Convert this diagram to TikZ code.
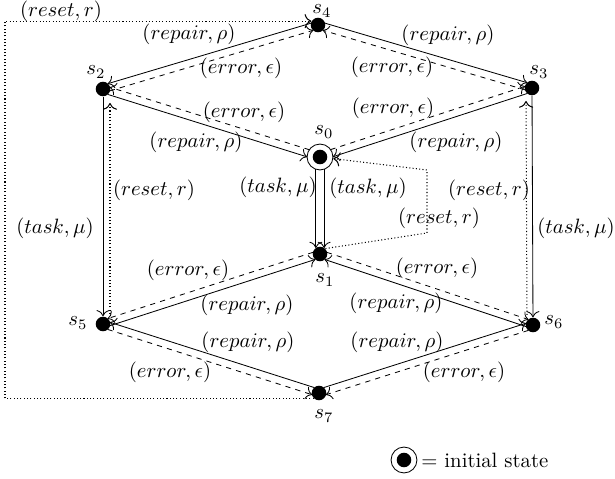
\documentclass[tikz,border=0pt]{standalone}
\usetikzlibrary{calc,arrows.meta}
\newcommand{\pedge}[4]{\draw[#1] ($(#2)!#4!90:(#3)$) -- ($(#3)!#4!-90:(#2)$);}
\tikzset{
  dot/.style={circle, fill, inner sep=0pt, minimum size=7pt},
  initstate/.style={circle, draw, inner sep=0pt, minimum size=12.5pt,
    path picture={\fill (path picture bounding box.center) circle (3.5pt);}},
  lbl/.style={inner sep=0pt},
  tip/.style={-{To[scale=1.2]}},
  rep/.style={tip, shorten <=2.9pt, shorten >=2.9pt},
  err/.style={rep, dash pattern=on 2.5pt off 2.5pt},
  rst/.style={tip, line width=0.5pt, dash pattern=on 0.5pt off 1.1pt},
  s0start/.style={shorten <=5.9pt},
  s0end/.style={shorten >=5.9pt}
}
\begin{document}
\begin{tikzpicture}[x=0.482pt,y=-0.482pt]
\useasboundingbox (0,0) rectangle (615,479);
% states
\node[dot] (s4) at (318,25) {};
\node[dot] (s2) at (103,89) {};
\node[dot] (s3) at (532,88) {};
\node[initstate] (s0) at (320,157) {};
\node[dot] (s1) at (320,254) {};
\node[dot] (s5) at (103,324) {};
\node[dot] (s6) at (533,325) {};
\node[dot] (s7) at (319,393) {};
% state names
\node[lbl] (n4) at (322,11) {$s_4$};
\node[lbl] (n2) at (96,72) {$s_2$};
\node[lbl] (n3) at (539,72) {$s_3$};
\node[lbl] (n0) at (324,132) {$s_0$};
\node[lbl] (n1) at (325,280) {$s_1$};
\node[lbl] (n5) at (78,323) {$s_5$};
\node[lbl] (n6) at (554,322) {$s_6$};
\node[lbl] (n7) at (324,416) {$s_7$};
% helper coordinates
\coordinate (c1) at (427,233);
\coordinate (c2) at (427,170);
\coordinate (rc) at (5,399);
% parallel edges
\pedge{rep}{s4}{s2}{-1.8pt}
\pedge{err}{s2}{s4}{-1.8pt}
\pedge{rep}{s4}{s3}{1.8pt}
\pedge{err}{s3}{s4}{1.8pt}
\pedge{rep,s0end}{s2}{s0}{-1.8pt}
\pedge{err,s0start}{s0}{s2}{-1.8pt}
\pedge{err,s0start}{s0}{s3}{1.8pt}
\pedge{rep,s0end}{s3}{s0}{1.8pt}
\pedge{rep,s0start}{s0}{s1}{2pt}
\pedge{rep,s0start}{s0}{s1}{-2pt}
\pedge{err}{s1}{s5}{-1.8pt}
\pedge{rep}{s5}{s1}{-1.8pt}
\pedge{err}{s1}{s6}{1.8pt}
\pedge{rep}{s6}{s1}{1.8pt}
\pedge{rep}{s7}{s5}{-1.8pt}
\pedge{err}{s5}{s7}{-1.8pt}
\pedge{rep}{s7}{s6}{1.8pt}
\pedge{err}{s6}{s7}{1.8pt}
% vertical task edges
\draw[tip] (s2) -- (s5);
\draw[tip] (s3) -- (s6);
% reset edges
\draw[rst] ([shift={(7,-10)}]s5.center) -- ([shift={(7,14)}]s2.center);
\draw[rst] ([shift={(-6,-10)}]s6.center) -- ([shift={(-6,13)}]s3.center);
\draw[rst] (s1.north east) -- (c1) -- (c2) -- (s0);
\draw[rst] (s7.south west) -| (rc |- s4.150) -- (s4.150);
% edge labels
\node[lbl] (l1) at (189,34) {$(repair,\rho)$};
\node[lbl] (l2) at (241,68) {$(error,\epsilon)$};
\node[lbl] (l3) at (448,35) {$(repair,\rho)$};
\node[lbl] (l4) at (392,67) {$(error,\epsilon)$};
\node[lbl] (l5) at (244,112) {$(error,\epsilon)$};
\node[lbl] (l6) at (196,142) {$(repair,\rho)$};
\node[lbl] (l7) at (393,108) {$(error,\epsilon)$};
\node[lbl] (l8) at (456,142) {$(repair,\rho)$};
\node[lbl] (l9) at (278,187) {$(task,\mu)$};
\node[lbl] (l10) at (368,188) {$(task,\mu)$};
\node[lbl] (l11) at (439,218) {$(reset,r)$};
\node[lbl] (l12) at (154,190) {$(reset,r)$};
\node[lbl] (l13) at (55,228) {$(task,\mu)$};
\node[lbl] (l14) at (489,190) {$(reset,r)$};
\node[lbl] (l15) at (576,228) {$(task,\mu)$};
\node[lbl] (l16) at (188,270) {$(error,\epsilon)$};
\node[lbl] (l17) at (247,305) {$(repair,\rho)$};
\node[lbl] (l18) at (437,268) {$(error,\epsilon)$};
\node[lbl] (l19) at (396,303) {$(repair,\rho)$};
\node[lbl] (l20) at (248,342) {$(repair,\rho)$};
\node[lbl] (l21) at (170,372) {$(error,\epsilon)$};
\node[lbl] (l22) at (397,342) {$(repair,\rho)$};
\node[lbl] (l23) at (464,372) {$(error,\epsilon)$};
\node[lbl] (l24) at (61,11) {$(reset,r)$};
% legend
\node[initstate] (legmark) at (404,460) {};
\node[lbl, anchor=west] (legtext) at (421,460) {$=$ initial state};
\end{tikzpicture}
\end{document}
